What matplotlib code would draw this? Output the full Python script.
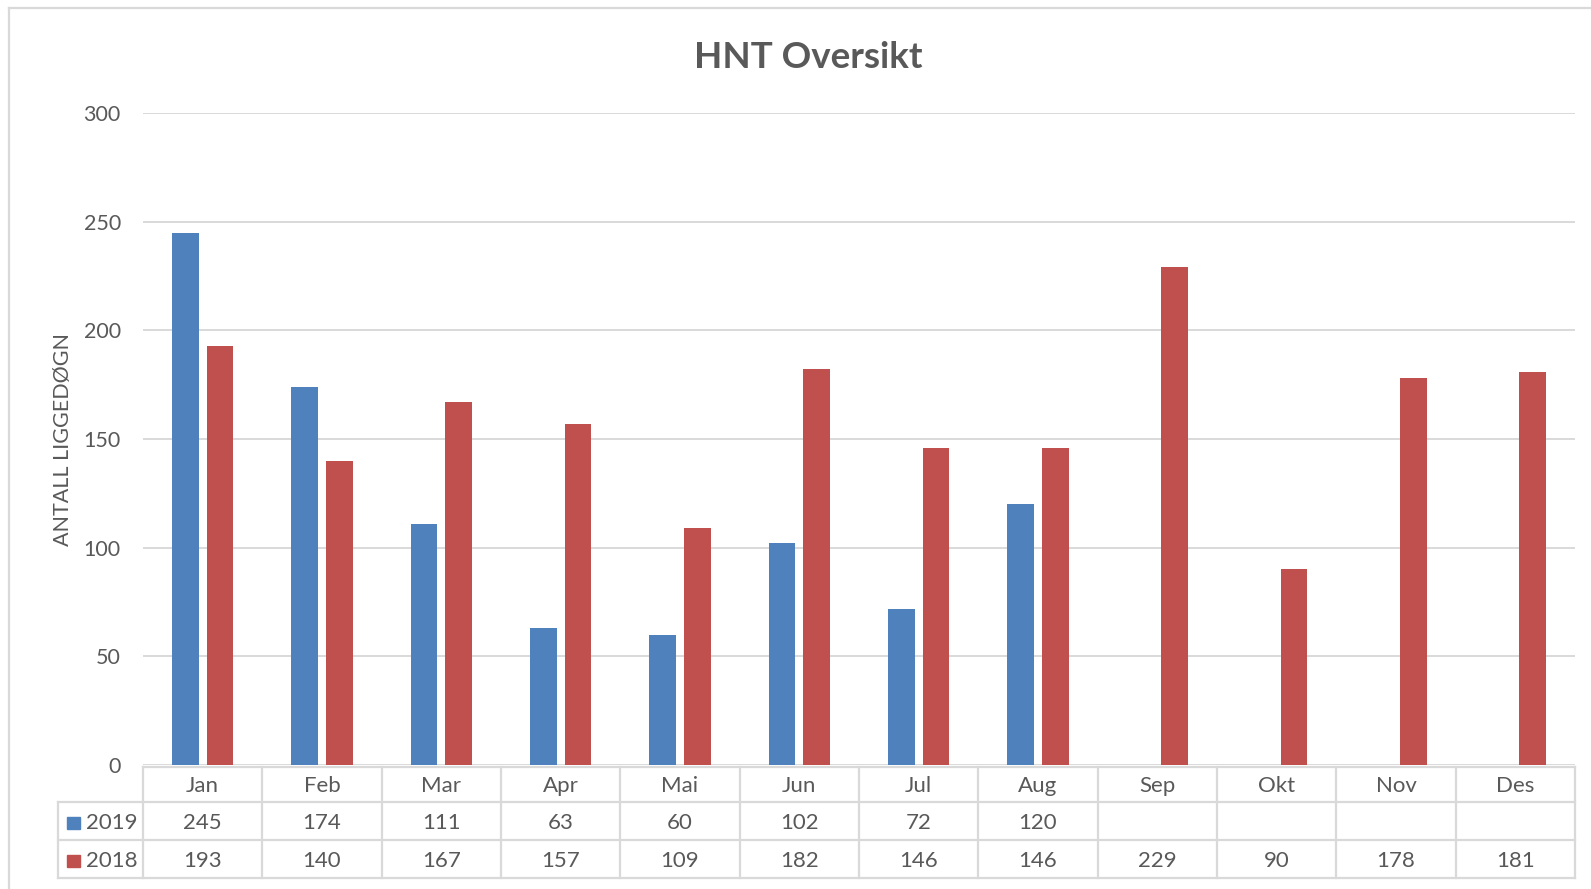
import matplotlib.pyplot as plt
from matplotlib.transforms import blended_transform_factory
from matplotlib.patches import Rectangle
from matplotlib.lines import Line2D

plt.rcParams['font.family'] = ['Lato', 'DejaVu Sans']

months = ["Jan", "Feb", "Mar", "Apr", "Mai", "Jun", "Jul", "Aug", "Sep", "Okt", "Nov", "Des"]
v2019 = [245, 174, 111, 63, 60, 102, 72, 120]
v2018 = [193, 140, 167, 157, 109, 182, 146, 146, 229, 90, 178, 181]
series = ["2019", "2018"]
colors = ["#4F81BD", "#C0504D"]
grid_c = "#D9D9D9"
text_c = "#595959"

W, H = 1591, 889
fig = plt.figure(figsize=(W / 100, H / 100), dpi=100)
ax = fig.add_axes([143 / W, 1 - 765 / H, (1575 - 143) / W, (765 - 113) / H])

off, bw = 0.145, 0.225
ax.bar([i - off for i in range(len(v2019))], v2019, width=bw, color=colors[0], zorder=3)
ax.bar([i + off for i in range(len(v2018))], v2018, width=bw, color=colors[1], zorder=3)

ax.set_xlim(-0.5, 11.5)
ax.set_ylim(0, 300)
ax.set_yticks(range(0, 301, 50))
ax.set_xticks([])
ax.tick_params(axis='y', length=0, pad=16, labelsize=15.5, labelcolor=text_c)
ax.grid(axis='y', color=grid_c, lw=1.4, zorder=0)
for s in ax.spines.values():
    s.set_visible(False)
ax.set_ylabel("ANTALL LIGGEDØGN", fontsize=15.5, color=text_c)
ax.yaxis.set_label_coords((73 - 143) / (1575 - 143), 0.5)

fig.text(808 / W, 1 - 57 / H, "HNT Oversikt", ha='center', va='center',
         fontsize=26.5, fontweight='bold', color=text_c)

# data table below the axis
tr = blended_transform_factory(ax.transData, fig.transFigure)
def fy(py):
    return 1 - py / H

rows_y = [767, 802, 840, 878]
leg_x = -0.5 - 85 / 119.33
lkw = dict(color=grid_c, lw=1.6, transform=tr, clip_on=False)
fig.add_artist(Line2D([-0.5, 11.5], [fy(rows_y[0])] * 2, **lkw))
for yy in rows_y[1:]:
    fig.add_artist(Line2D([leg_x, 11.5], [fy(yy)] * 2, **lkw))
for k in range(13):
    fig.add_artist(Line2D([k - 0.5] * 2, [fy(rows_y[0]), fy(rows_y[3])], **lkw))
fig.add_artist(Line2D([leg_x] * 2, [fy(rows_y[1]), fy(rows_y[3])], **lkw))

tkw = dict(transform=tr, ha='center', va='center', fontsize=16, color=text_c)
for i, m in enumerate(months):
    fig.text(i, fy((rows_y[0] + rows_y[1]) / 2 + 2), m, **tkw)
for r, vals in enumerate([v2019, v2018]):
    yc = fy((rows_y[r + 1] + rows_y[r + 2]) / 2 + 2)
    for i, v in enumerate(vals):
        fig.text(i, yc, str(v), **tkw)
    fig.add_artist(Rectangle((67 / W, yc - 6 / H), 13 / W, 12 / H,
                             transform=fig.transFigure, color=colors[r]))
    fig.text(86 / W, yc, series[r], transform=fig.transFigure, ha='left',
             va='center', fontsize=16, color=text_c)

# chart frame
fig.add_artist(Line2D([9 / W, 9 / W], [0, fy(8)], color=grid_c, lw=1.6))
fig.add_artist(Line2D([9 / W, 1], [fy(8), fy(8)], color=grid_c, lw=1.6))

fig.savefig("out.png", dpi=100)
